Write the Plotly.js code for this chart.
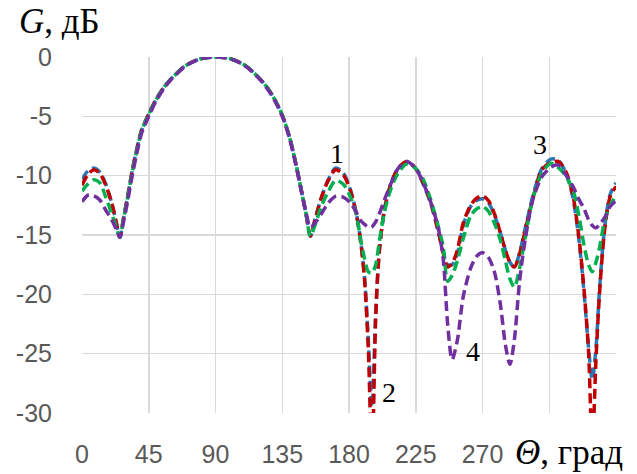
<!DOCTYPE html>
<html>
<head>
<meta charset="utf-8">
<script src="https://cdn.plot.ly/plotly-3.0.1.min.js"></script>
<style>
  html, body { margin: 0; padding: 0; background: #ffffff; }
  #chart { width: 637px; height: 474px; }
</style>
</head>
<body>
<div id="chart"></div>
<script>
// Angle grid, degrees
const theta = [
  0, 4, 8, 12, 16, 20, 23, 25.5,
  28, 31, 34, 37, 40, 45, 50, 55, 60, 70, 80, 90,
  100, 110, 120, 125, 130, 135, 140, 144, 148, 151, 154,
  157, 161, 166, 171, 176, 181, 185, 188, 190.5, 193, 195.5, 198, 200.5, 204, 208.5, 213, 219,
  225, 230, 235, 240, 243.5, 246.5, 249.5, 253, 257, 262, 266, 270,
  274, 278, 282, 285.5, 288.5, 291.5, 295, 299, 304, 310, 316, 321,
  326, 331, 335, 338.5, 341.5, 344, 346.5, 349, 352.5, 356, 360
];

// Gain, dB — curve 1
const g1 = [
  -10.3, -9.6, -9.35, -9.7, -10.7, -12.3, -13.9, -15.2,
  -13.6, -11.6, -9.5, -7.75, -6.25, -4.8, -3.55, -2.6, -1.85, -0.72, -0.15, 0,
  -0.15, -0.72, -1.85, -2.6, -3.6, -4.9, -6.8, -8.9, -11.3, -13.2, -15.1,
  -13.7, -12.0, -10.35, -9.35, -9.75, -11.2, -13.2, -15.6, -18.6, -23.8, -29.5, -21.5, -16.2, -12.8, -10.6, -9.4, -8.85,
  -9.4, -10.7, -12.3, -14.6, -16.4, -17.5, -17.5, -16.6, -14.2, -12.6, -12.1, -11.95,
  -12.3, -13.3, -14.8, -16.3, -17.3, -17.7, -16.5, -14.3, -11.7, -9.4, -8.6, -8.7,
  -9.7, -11.9, -15.4, -19.9, -24.5, -27.2, -24.5, -19.4, -14.2, -11.6, -10.6
];

// Gain, dB — curve 2
const g2 = [
  -10.8, -9.9, -9.5, -9.8, -10.8, -12.3, -13.9, -15.2,
  -13.6, -11.6, -9.5, -7.75, -6.25, -4.8, -3.55, -2.6, -1.85, -0.72, -0.15, 0,
  -0.15, -0.72, -1.85, -2.6, -3.6, -4.9, -6.8, -8.9, -11.3, -13.2, -15.1,
  -13.8, -12.0, -10.4, -9.5, -9.9, -11.3, -13.3, -15.7, -18.8, -24.5, -34, -22, -16.3, -12.8, -10.6, -9.4, -8.8,
  -9.4, -10.6, -12.2, -14.6, -16.5, -17.7, -17.4, -16.3, -14.0, -12.5, -11.9, -11.7,
  -12.1, -13.2, -14.8, -16.3, -17.3, -17.7, -16.6, -14.5, -11.9, -9.5, -8.9, -8.8,
  -9.6, -11.7, -15.2, -19.7, -24.8, -33, -25.5, -19.7, -14.4, -11.8, -10.9
];

// Gain, dB — curve 3
const g3 = [
  -11.3, -10.7, -10.35, -10.6, -11.8, -13.2, -14.3, -15.2,
  -13.6, -11.7, -9.6, -7.85, -6.3, -4.85, -3.6, -2.6, -1.85, -0.72, -0.15, 0,
  -0.15, -0.72, -1.85, -2.6, -3.6, -4.9, -6.8, -8.9, -11.3, -13.2, -15.1,
  -14.2, -12.7, -11.35, -10.4, -10.7, -11.8, -13.3, -15.5, -17.0, -18.1, -18.2, -17.5, -15.5, -13.0, -11.0, -9.8, -9.0,
  -9.4, -10.3, -12.0, -14.2, -16.0, -18.9, -18.4, -17.2, -15.3, -13.4, -12.8, -12.6,
  -13.0, -14.0, -15.4, -17.2, -18.7, -19.4, -17.8, -15.1, -11.9, -9.8, -8.95, -9.3,
  -10.0, -11.2, -13.4, -15.9, -17.5, -18.1, -17.3, -16.0, -13.7, -12.5, -11.7
];

// Gain, dB — curve 4
const g4 = [
  -12.2, -11.65, -11.7, -12.05, -12.9, -13.7, -14.5, -15.2,
  -13.9, -12.0, -9.9, -8.1, -6.5, -5.0, -3.7, -2.7, -1.9, -0.75, -0.15, 0,
  -0.15, -0.75, -1.9, -2.7, -3.7, -5.0, -6.9, -9.0, -11.4, -13.1, -14.35,
  -14.0, -13.3, -12.3, -11.75, -11.8, -12.3, -13.1, -13.8, -14.1, -14.35, -14.3, -13.9, -13.2, -12.0, -10.6, -9.4, -8.8,
  -9.4, -10.6, -12.2, -14.3, -17.0, -22.5, -25.5, -23.9, -20.2, -17.8, -16.8, -16.5,
  -16.9, -18.1, -20.8, -24.3, -25.9, -23.8, -18.9, -15.2, -12.0, -10.1, -9.3, -9.1,
  -9.9, -10.9, -12.0, -12.8, -13.7, -14.2, -14.4, -14.1, -13.5, -12.6, -12.1
];

const curveColors = ['#2E75B6', '#C00000', '#00B050', '#7030A0'];

// Axis ticks
const xTickVals = [0, 45, 90, 135, 180, 225, 270, 315, 360];
const xTickText = ['0', '45', '90', '135', '180', '225', '270', '', ''];
const yTickVals = [0, -5, -10, -15, -20, -25, -30];
const yTickText = ['0', '-5', '-10', '-15', '-20', '-25', '-30'];

// Curve number labels: [text, theta, gain]
const curveLabels = [
  ['1', 171.7, -8.1],
  ['2', 207, -28.3],
  ['3', 308.8, -7.4],
  ['4', 263.3, -24.8]
];

const series = [g1, g2, g3, g4];
const traces = series.map((g, i) => ({
  x: theta,
  y: g,
  type: 'scatter',
  mode: 'lines',
  line: { color: curveColors[i], width: 3.5, dash: '10px,5px', shape: 'spline', smoothing: 0.8 },
  hoverinfo: 'skip',
  showlegend: false
}));

const serif = 'Liberation Serif, Times New Roman, serif';
const tickFont = { family: 'Liberation Sans, Arial, sans-serif', size: 25, color: '#595959' };

const annotations = curveLabels.map(([t, x, y]) => ({
  text: t, x: x, y: y, xref: 'x', yref: 'y',
  showarrow: false, font: { family: serif, size: 28, color: '#000000' }
}));

annotations.push({
  text: '<i>G</i>, дБ', xref: 'paper', yref: 'paper',
  x: -0.121, y: 1.1, xanchor: 'left', yanchor: 'middle',
  showarrow: false, font: { family: serif, size: 35, color: '#000000' }
});
annotations.push({
  text: '<i>Θ</i>, град', xref: 'paper', yref: 'paper',
  x: 0.808, y: -0.11, xanchor: 'left', yanchor: 'middle',
  showarrow: false, font: { family: serif, size: 35, color: '#000000' }
});

const layout = {
  width: 637,
  height: 474,
  margin: { l: 82, r: 21, t: 57, b: 61 },
  paper_bgcolor: '#ffffff',
  plot_bgcolor: '#ffffff',
  xaxis: {
    range: [0, 360],
    tickmode: 'array',
    tickvals: xTickVals,
    ticktext: xTickText,
    tickfont: tickFont,
    ticks: '',
    ticklabelstandoff: 24,
    showgrid: true,
    gridcolor: '#d9d9d9',
    gridwidth: 1.5,
    zeroline: false,
    showline: false,
    fixedrange: true
  },
  yaxis: {
    range: [-30, 0],
    tickmode: 'array',
    tickvals: yTickVals,
    ticktext: yTickText,
    tickfont: tickFont,
    ticks: '',
    ticklabelstandoff: 29,
    showgrid: true,
    gridcolor: '#d9d9d9',
    gridwidth: 1.5,
    zeroline: false,
    showline: false,
    fixedrange: true
  },
  annotations: annotations
};

Plotly.newPlot('chart', traces, layout, { displayModeBar: false, staticPlot: true });
</script>
</body>
</html>
